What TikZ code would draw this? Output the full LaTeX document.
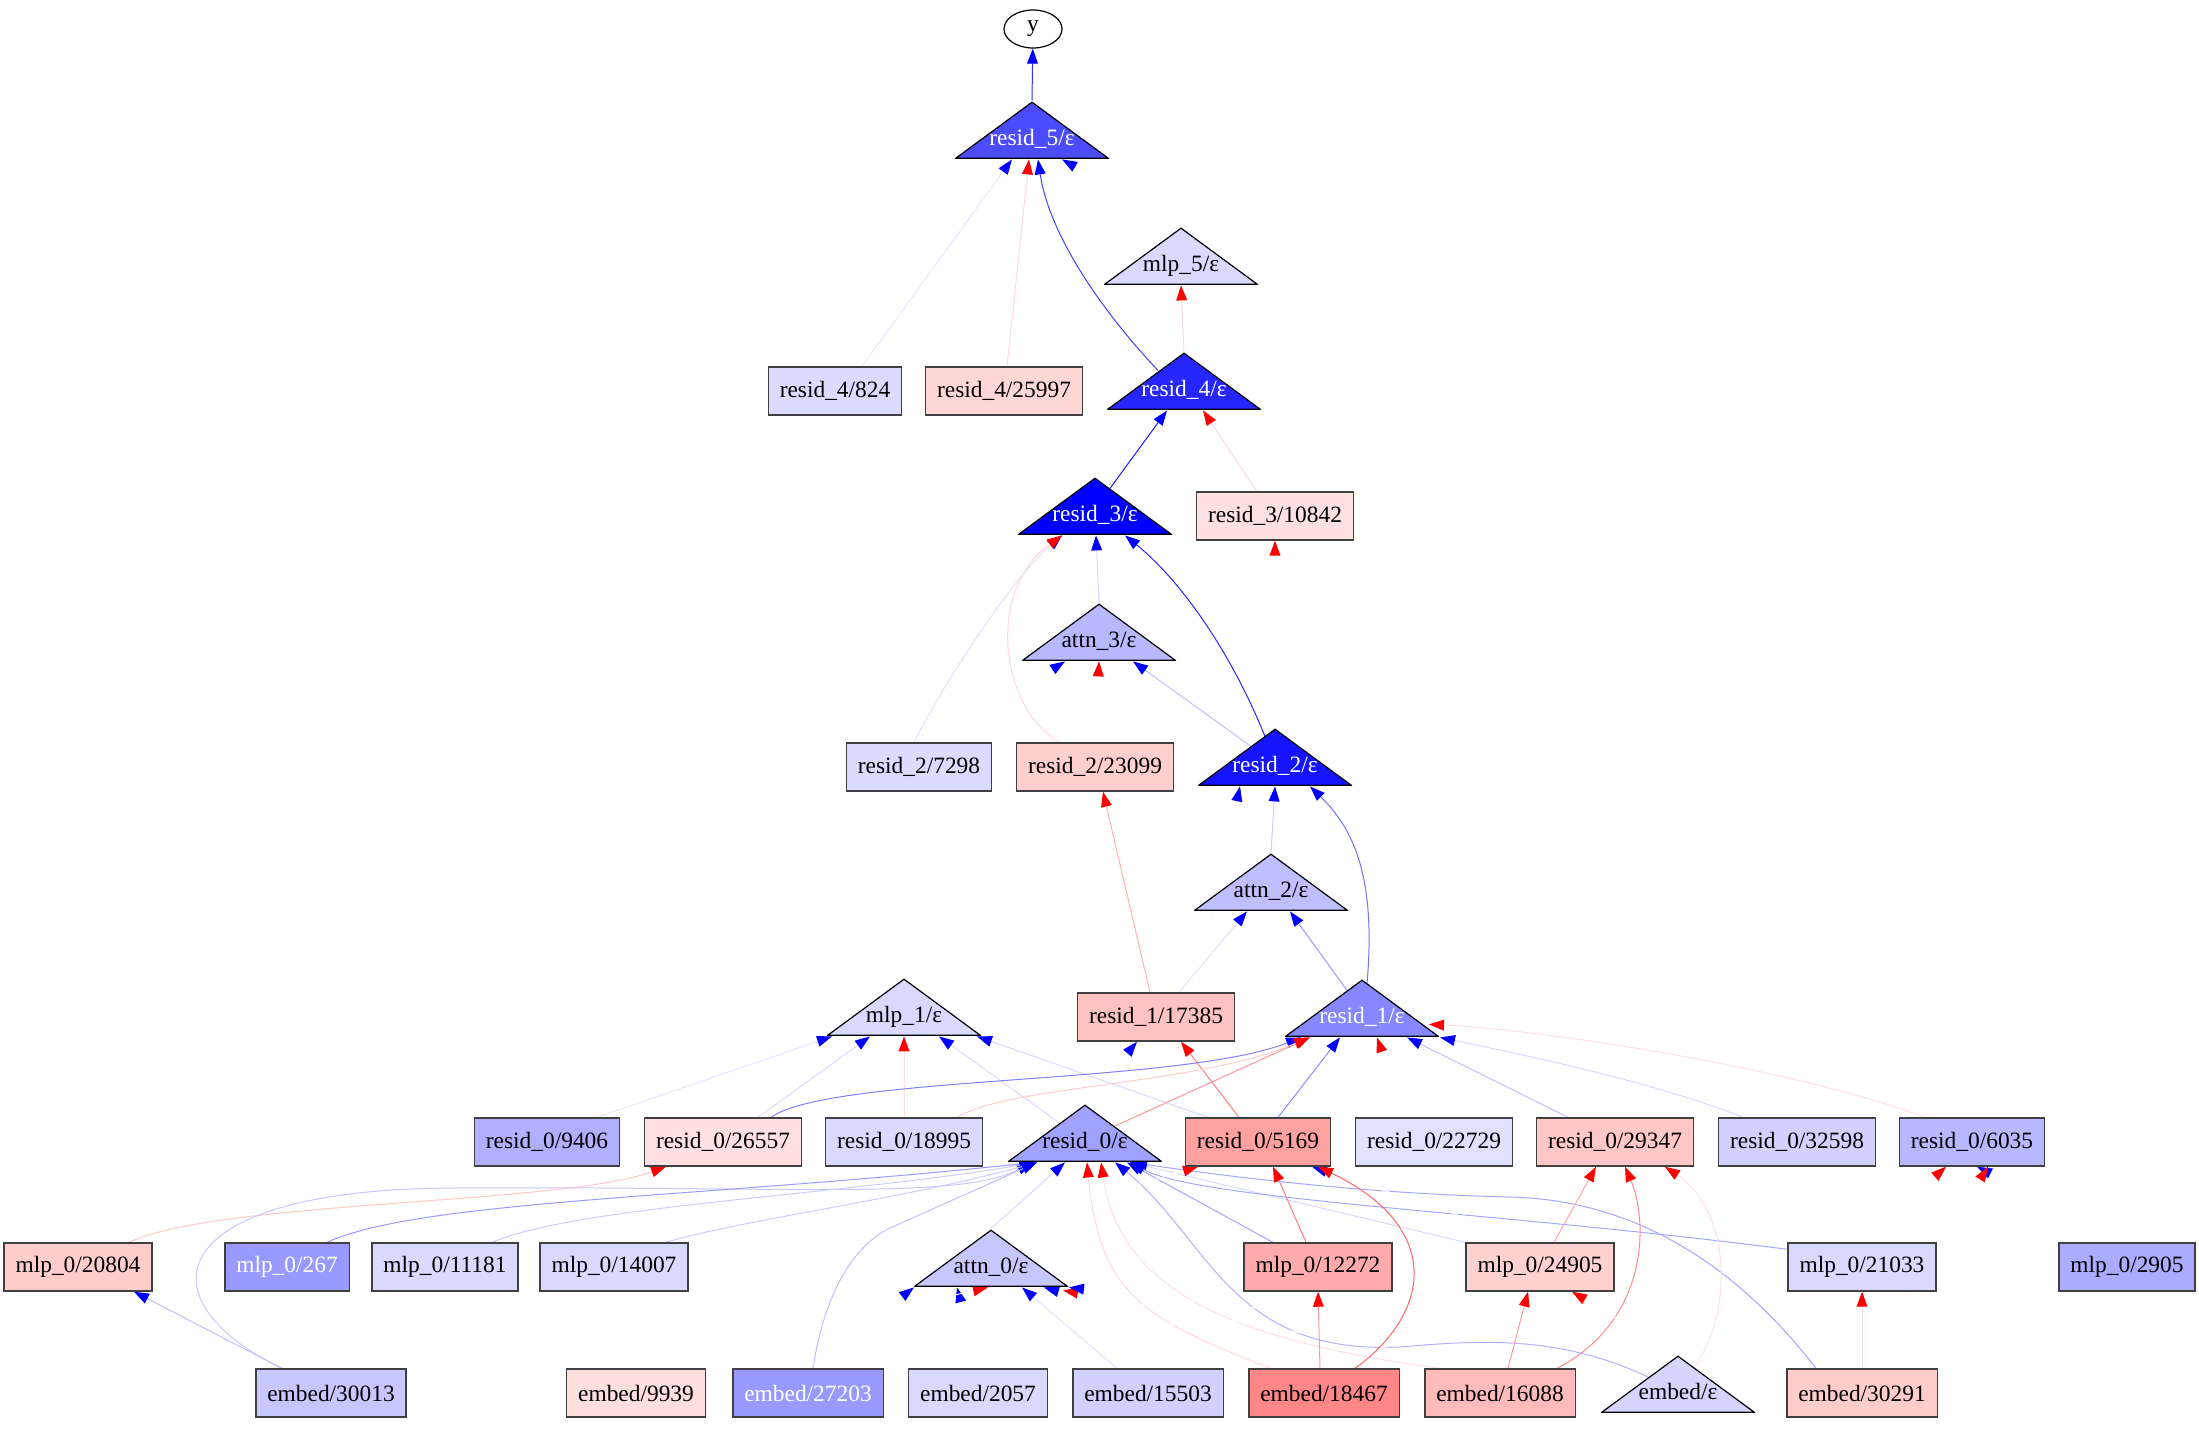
\documentclass[tikz,border=0pt]{standalone}
\usepackage{fontspec}
\setmainfont{Liberation Serif}
\usetikzlibrary{arrows.meta, shapes.geometric, calc, backgrounds}

\begin{document}
\begin{tikzpicture}[
    x=0.5pt, y=-0.5pt,
    font=\fontsize{11.7}{14}\selectfont,
    box/.style={rectangle, draw=black!75, line width=0.7pt, fill=#1,
                minimum height=24pt, inner xsep=5.75pt, inner ysep=0pt},
    tri/.style={rectangle, minimum width=77pt, minimum height=29pt, inner sep=0pt,
                text height=15pt, text depth=0pt,
                path picture={\filldraw[fill=#1, draw=black, line width=0.6pt]
                    ([shift={(0.4pt,0.4pt)}]path picture bounding box.south west) --
                    ([shift={(0pt,-0.6pt)}]path picture bounding box.north) --
                    ([shift={(-0.4pt,0.4pt)}]path picture bounding box.south east) -- cycle;}},
    bluearrow/.style={draw=blue!#1, line width=0.5pt, -{Triangle[color=blue, length=7.5pt, width=5.4pt]}},
    redarrow/.style={draw=red!#1, line width=0.5pt, -{Triangle[color=red, length=7.5pt, width=5.4pt]}}
]
    \useasboundingbox (0,0) rectangle (2199,1437);

    % === Output and upper layers ===
    \node[ellipse, draw=black, line width=0.6pt, minimum width=29pt, minimum height=19pt, inner sep=0pt] (yout) at (1033,29) {y};
    \node[tri=blue!70, text=white] (r5) at (1032,130) {resid\_5/ε};
    \node[tri=blue!15] (m5) at (1181,256) {mlp\_5/ε};
    \node[box=blue!14] (r4-824) at (835,391) {resid\_4/824};
    \node[box=red!16] (r4-25997) at (1004,391) {resid\_4/25997};
    \node[tri=blue!85, text=white] (r4) at (1184,381) {resid\_4/ε};
    \node[tri=blue, text=white] (r3) at (1095,506) {resid\_3/ε};
    \node[box=red!12] (r3-10842) at (1275,516) {resid\_3/10842};
    \node[tri=blue!28] (a3) at (1099,632) {attn\_3/ε};
    \node[box=blue!14] (r2-7298) at (919,767) {resid\_2/7298};
    \node[box=red!19] (r2-23099) at (1095,767) {resid\_2/23099};
    \node[tri=blue!92, text=white] (r2) at (1275,757) {resid\_2/ε};
    \node[tri=blue!25] (a2) at (1271,882) {attn\_2/ε};
    \node[tri=blue!15] (m1) at (904,1007) {mlp\_1/ε};
    \node[box=red!24] (r1-17385) at (1156,1017) {resid\_1/17385};
    \node[tri=blue!47, text=white] (r1) at (1362,1008) {resid\_1/ε};

    % === resid_0 row ===
    \node[box=blue!31] (r0-9406) at (547,1142) {resid\_0/9406};
    \node[box=red!12] (r0-26557) at (723,1142) {resid\_0/26557};
    \node[box=blue!15] (r0-18995) at (904,1142) {resid\_0/18995};
    \node[tri=blue!37] (r0) at (1085,1133) {resid\_0/ε};
    \node[box=red!37] (r0-5169) at (1258,1142) {resid\_0/5169};
    \node[box=blue!12] (r0-22729) at (1434,1142) {resid\_0/22729};
    \node[box=red!22] (r0-29347) at (1615,1142) {resid\_0/29347};
    \node[box=blue!18] (r0-32598) at (1797,1142) {resid\_0/32598};
    \node[box=blue!28] (r0-6035) at (1972,1142) {resid\_0/6035};

    % === mlp_0 row ===
    \node[box=red!20] (m0-20804) at (78,1267) {mlp\_0/20804};
    \node[box=blue!40, text=white] (m0-267) at (287,1267) {mlp\_0/267};
    \node[box=blue!15] (m0-11181) at (445,1267) {mlp\_0/11181};
    \node[box=blue!15] (m0-14007) at (614,1267) {mlp\_0/14007};
    \node[tri=blue!22] (a0) at (991,1258) {attn\_0/ε};
    \node[box=red!33] (m0-12272) at (1318,1267) {mlp\_0/12272};
    \node[box=red!18] (m0-24905) at (1540,1267) {mlp\_0/24905};
    \node[box=blue!15] (m0-21033) at (1862,1267) {mlp\_0/21033};
    \node[box=blue!33] (m0-2905) at (2127,1267) {mlp\_0/2905};

    % === embed row ===
    \node[box=blue!22] (e-30013) at (331,1393) {embed/30013};
    \node[box=red!13] (e-9939) at (636,1393) {embed/9939};
    \node[box=blue!40, text=white] (e-27203) at (808,1393) {embed/27203};
    \node[box=blue!15] (e-2057) at (978,1393) {embed/2057};
    \node[box=blue!18] (e-15503) at (1148,1393) {embed/15503};
    \node[box=red!47] (e-18467) at (1324,1393) {embed/18467};
    \node[box=red!27] (e-16088) at (1500,1393) {embed/16088};
    \node[tri=blue!17] (e-eps) at (1678,1384) {embed/ε};
    \node[box=red!20] (e-30291) at (1862,1393) {embed/30291};

    \begin{scope}[on background layer]
        % into y, resid_5 and mlp_5
        \draw[bluearrow=80] (r5.north) -- (yout);
        \draw[bluearrow=10] ($(r4-824.north)+(27,0)$) -- ($(r5.south)+(-20,0)$);
        \draw[redarrow=15] ($(r4-25997.north)+(3,0)$) -- ($(r5.south)+(-3,0)$);
        \draw[bluearrow=75] ($(r4.south)+(-26,-40)$) .. controls (1110,320) and (1050,240) .. ($(r5.south)+(6,0)$);
        \draw[bluearrow=1] (m5.north) -- ($(r5.south)+(30,0)$);
        \draw[redarrow=15] (r4.north) -- (m5.south);

        % into resid_4
        \draw[bluearrow=90] ($(r3.south)+(15,-47)$) -- ($(r4.south)+(-17,0)$);
        \draw[redarrow=15] ($(r3-10842.north)+(-18,0)$) -- ($(r4.south)+(19,0)$);

        % into resid_3
        \draw[bluearrow=12] ($(r2-7298.north)+(-5,0)$) .. controls (940,690) and (1010,580) .. ($(r3.south)+(-33,0)$);
        \draw[redarrow=15] ($(r2-23099.north)+(-35,0)$) .. controls (1000,710) and (985,590) .. ($(r3.south)+(-33,0)$);
        \draw[bluearrow=15] (a3.north) -- ($(r3.south)+(1,0)$);
        \draw[bluearrow=85] ($(r2.south)+(-10,-50)$) .. controls (1230,650) and (1180,580) .. ($(r3.south)+(30,0)$);
        \draw[redarrow=1] (r2.north) -- (r3-10842.south);

        % into attn_3
        \draw[bluearrow=25] ($(r2.south)+(-24,-40)$) -- ($(a3.south)+(34,0)$);
        \draw[bluearrow=1] ($(r2-7298.north)+(20,0)$) -- ($(a3.south)+(-34,0)$);
        \draw[redarrow=1] (r2-23099.north) -- (a3.south);

        % into resid_2
        \draw[redarrow=30] ($(r1-17385.north)+(-6,0)$) -- ($(r2-23099.south)+(8,0)$);
        \draw[bluearrow=20] (a2.north) -- (r2.south);
        \draw[bluearrow=55] ($(r1.south)+(5,-54)$) .. controls (1376,880) and (1355,830) .. ($(r2.south)+(35,0)$);
        \draw[bluearrow=1] ($(r1-17385.north)+(40,0)$) -- ($(r2.south)+(-35,0)$);

        % into attn_2
        \draw[bluearrow=12] ($(r1-17385.north)+(23,0)$) -- ($(a2.south)+(-24,0)$);
        \draw[bluearrow=40] ($(r1.south)+(-15,-47)$) -- ($(a2.south)+(19,0)$);

        % into resid_1/17385
        \draw[redarrow=50] ($(r0-5169.north)+(-19,0)$) -- ($(r1-17385.south)+(25,0)$);
        \draw[bluearrow=1] (r0.north) -- ($(r1-17385.south)+(-19,0)$);

        % into mlp_1
        \draw[bluearrow=10] ($(r0-9406.north)+(50,0)$) -- ($(m1.south)+(-72,0)$);
        \draw[bluearrow=15] ($(r0-26557.north)+(35,0)$) -- ($(m1.south)+(-34,0)$);
        \draw[redarrow=12] (r0-18995.north) -- (m1.south);
        \draw[bluearrow=15] ($(r0.south)+(-25,-39)$) -- ($(m1.south)+(35,0)$);
        \draw[bluearrow=15] ($(r0-5169.north)+(-50,0)$) -- ($(m1.south)+(73,0)$);

        % into resid_1
        \draw[bluearrow=50] ($(r0-26557.north)+(48,0)$) .. controls (830,1075) and (1180,1085) .. ($(r1.south)+(-61,0)$);
        \draw[redarrow=20] ($(r0-18995.north)+(53,0)$) .. controls (1010,1085) and (1200,1085) .. ($(r1.south)+(-53,0)$);
        \draw[redarrow=40] ($(r0.south)+(29,-36)$) -- ($(r1.south)+(-52,0)$);
        \draw[bluearrow=45] ($(r0-5169.north)+(20,0)$) -- ($(r1.south)+(-22,0)$);
        \draw[redarrow=1] ($(r0-22729.north)+(-30,0)$) -- ($(r1.south)+(15,0)$);
        \draw[bluearrow=25] ($(r0-29347.north)+(-47,0)$) -- ($(r1.south)+(45,0)$);
        \draw[bluearrow=15] ($(r0-32598.north)+(-54,0)$) .. controls (1650,1080) and (1500,1050) .. ($(r1.south)+(78,0)$);
        \draw[redarrow=12] ($(r0-6035.north)+(-47,0)$) .. controls (1800,1070) and (1550,1030) .. ($(r1.south)+(67,-13)$);

        % into resid_0/26557
        \draw[redarrow=22] ($(m0-20804.north)+(51,0)$) .. controls (220,1200) and (560,1205) .. ($(r0-26557.south)+(-57,0)$);

        % into resid_0/eps
        \draw[bluearrow=22] ($(e-30013.north)+(-49,0)$) .. controls (140,1300) and (160,1190) .. (450,1188) .. controls (800,1186) and (960,1200) .. ($(r0.south)+(-53,0)$);
        \draw[bluearrow=40] ($(m0-267.north)+(40,0)$) .. controls (420,1200) and (700,1198) .. ($(r0.south)+(-51,0)$);
        \draw[bluearrow=20] ($(m0-11181.north)+(47,0)$) .. controls (580,1205) and (850,1195) .. ($(r0.south)+(-50,0)$);
        \draw[bluearrow=20] ($(m0-14007.north)+(52,0)$) .. controls (740,1220) and (900,1200) .. ($(r0.south)+(-48,0)$);
        \draw[bluearrow=25] ($(e-27203.north)+(5,0)$) .. controls (825,1290) and (855,1245) .. (890,1228) -- ($(r0.south)+(-48,0)$);
        \draw[bluearrow=15] (a0.north) -- ($(r0.south)+(-20,0)$);
        \draw[redarrow=15] ($(e-18467.north)+(-54,0)$) .. controls (1150,1320) and (1100,1300) .. ($(r0.south)+(2,0)$);
        \draw[redarrow=12] ($(e-16088.north)+(-60,0)$) .. controls (1230,1340) and (1120,1290) .. ($(r0.south)+(16,0)$);
        \draw[bluearrow=30] ($(e-eps.south)+(-29,-36)$) .. controls (1560,1335) and (1480,1340) .. (1400,1347) .. controls (1230,1355) and (1210,1240) .. ($(r0.south)+(30,0)$);
        \draw[bluearrow=35] ($(m0-12272.north)+(-45,0)$) -- ($(r0.south)+(42,0)$);
        \draw[bluearrow=15] (m0-24905.north west) -- ($(r0.south)+(45,0)$);
        \draw[bluearrow=35] ($(m0-21033.north west)+(0,7)$) .. controls (1500,1212) and (1200,1200) .. ($(r0.south)+(45,0)$);
        \draw[bluearrow=35] ($(e-30291.north)+(-46,0)$) .. controls (1740,1270) and (1640,1200) .. (1510,1197) .. controls (1380,1194) and (1250,1180) .. ($(r0.south)+(47,0)$);

        % into attn_0
        \draw[bluearrow=12] ($(e-15503.north)+(-31,0)$) -- ($(a0.south)+(31,0)$);
        \draw[bluearrow=1] (e-27203.north) -- ($(a0.south)+(-77,0)$);
        \draw[bluearrow=1] (e-2057.north) -- ($(a0.south)+(-34,0)$);
        \draw[redarrow=1] (e-9939.north) -- ($(a0.south)+(-3,0)$);
        \draw[bluearrow=1] (e-18467.north) -- ($(a0.south)+(53,0)$);
        \draw[redarrow=1] (e-16088.north) -- ($(a0.south)+(72,3)$);
        \draw[bluearrow=1] (e-eps.north) -- ($(a0.south)+(78,0)$);

        % into resid_0/5169
        \draw[redarrow=1] (a0.north) -- ($(r0-5169.south)+(-60,0)$);
        \draw[redarrow=50] ($(m0-12272.north)+(-12,0)$) -- ($(r0-5169.south)+(15,0)$);
        \draw[bluearrow=1] (m0-24905.north) -- ($(r0-5169.south)+(54,0)$);
        \draw[redarrow=60] ($(e-18467.north)+(31,0)$) .. controls (1435,1310) and (1440,1225) .. ($(r0-5169.south)+(60,0)$);

        % into resid_0/29347
        \draw[redarrow=35] ($(m0-24905.north)+(14,0)$) -- ($(r0-29347.south)+(-19,0)$);
        \draw[redarrow=45] ($(e-16088.north)+(57,0)$) .. controls (1650,1320) and (1648,1220) .. ($(r0-29347.south)+(10,0)$);
        \draw[redarrow=12] ($(e-eps.south)+(16,-46)$) .. controls (1735,1310) and (1730,1210) .. ($(r0-29347.south)+(50,0)$);

        % into resid_0/6035
        \draw[redarrow=1] (m0-21033.north) -- ($(r0-6035.south)+(-26,0)$);
        \draw[bluearrow=1] (m0-2905.north) -- ($(r0-6035.south)+(5,0)$);
        \draw[redarrow=1] (e-30291.north) -- ($(r0-6035.south)+(16,0)$);

        % into mlp_0 row
        \draw[redarrow=40] ($(e-18467.north)+(-4,0)$) -- (m0-12272.south);
        \draw[redarrow=40] ($(e-16088.north)+(8,0)$) -- ($(m0-24905.south)+(-12,0)$);
        \draw[redarrow=1] (e-eps.north) -- ($(m0-24905.south)+(32,0)$);
        \draw[redarrow=12] (e-30291.north) -- (m0-21033.south);
        \draw[bluearrow=25] ($(e-30013.north)+(-49,0)$) -- ($(m0-20804.south)+(56,0)$);
    \end{scope}
\end{tikzpicture}
\end{document}
